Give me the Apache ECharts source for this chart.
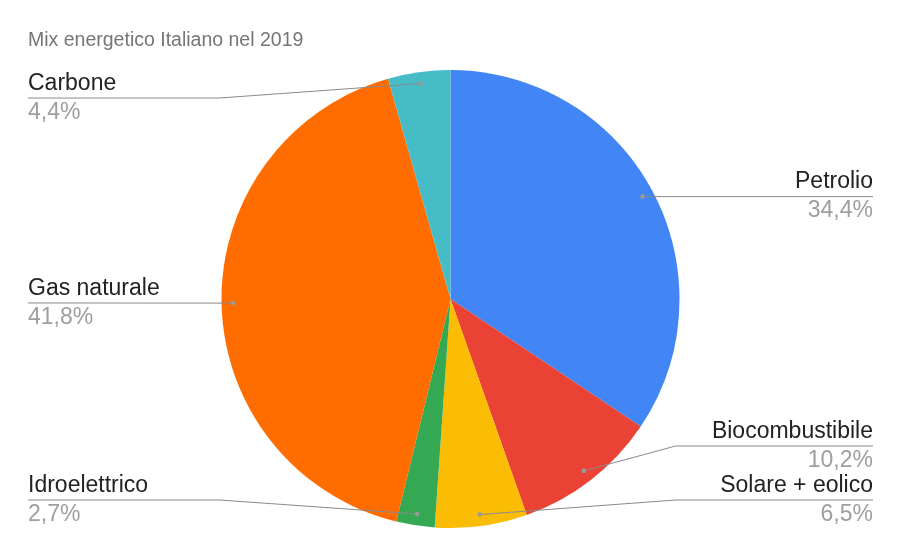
<!DOCTYPE html>
<html>
<head>
<meta charset="utf-8">
<script src="https://cdn.jsdelivr.net/npm/echarts@6/dist/echarts.min.js"></script>
<style>
  html, body { margin: 0; padding: 0; background: #fff; }
  #chart { width: 901px; height: 556px; }
</style>
</head>
<body>
<div id="chart"></div>
<script>
// Mix energetico Italiano nel 2019 (quote in %)
const categories = ['Petrolio', 'Biocombustibile', 'Solare + eolico', 'Idroelettrico', 'Gas naturale', 'Carbone'];
const shares = [34.4, 10.2, 6.5, 2.7, 41.8, 4.4];
const colors = ['#4285F4', '#EA4335', '#FBBC04', '#34A853', '#FF6D01', '#46BDC6'];

const FONT = 'Liberation Sans, Arial, sans-serif';
const RADIUS = 229;
const BOX_TOP = 71;
const BOX_BOTTOM = 29;

const chart = echarts.init(document.getElementById('chart'), null, { renderer: 'canvas' });
const dots = {};

// line: dot inside slice -> elbow at the pie's rim -> under the whole label
function layoutLabel(params) {
    const pts = params.labelLinePoints;
    if (!pts) return {};
    const cx = chart.getWidth() / 2;
    const rect = params.labelRect;
    const left = rect.x + rect.width / 2 < cx;
    const y = pts[2][1];
    const dot = pts[0];
    dots[params.dataIndex] = dot.slice();
    const end = [left ? rect.x : rect.x + rect.width, y];
    let elbow = dot;
    if (Math.abs(dot[1] - y) > 1.5) {
        elbow = [left ? Math.min(cx - RADIUS - 2, dot[0]) : Math.max(cx + RADIUS - 4, dot[0]), y];
    }
    return { labelLinePoints: [dot, elbow, end] };
}

const data = categories.map((name, i) => ({ name: name, value: shares[i] }));
const box = { left: 0, right: 0, top: BOX_TOP, bottom: BOX_BOTTOM, center: ['50%', '50%'], startAngle: 90, clockwise: true };

chart.setOption({
    animation: false,
    backgroundColor: '#ffffff',
    title: {
        text: 'Mix energetico Italiano nel 2019',
        left: 23,
        top: 26,
        textStyle: { fontFamily: FONT, fontSize: 19.5, fontWeight: 'normal', color: '#757575' }
    },
    color: colors,
    series: [
        Object.assign({
            type: 'pie',
            z: 2,
            radius: RADIUS,
            itemStyle: { borderWidth: 0 },
            emphasis: { disabled: true },
            label: { show: false },
            labelLine: { show: false },
            data: data
        }, box),
        // transparent copy that carries the labels, its edge is where the dots sit
        Object.assign({
            type: 'pie',
            z: 3,
            radius: RADIUS * 0.95,
            silent: true,
            avoidLabelOverlap: true,
            itemStyle: { color: 'rgba(0,0,0,0)', borderWidth: 0 },
            emphasis: { disabled: true },
            label: {
                show: true,
                position: 'outside',
                alignTo: 'edge',
                edgeDistance: 28,
                fontFamily: FONT,
                formatter: p => '{n|' + p.name + '}\n{p|' + p.percent.toFixed(1).replace('.', ',') + '%}',
                rich: {
                    n: { fontSize: 23, lineHeight: 29, color: '#222222', fontFamily: FONT },
                    p: { fontSize: 23, lineHeight: 29, color: '#9e9e9e', fontFamily: FONT }
                }
            },
            labelLine: {
                show: true,
                showAbove: true,
                length: 0,
                length2: 10,
                smooth: false,
                lineStyle: { color: '#8a8a8a', width: 1 }
            },
            labelLayout: layoutLabel,
            data: data
        }, box)
    ]
});

// small dots where the label lines start (positions come from the label layout above)
chart.setOption({
    graphic: Object.keys(dots).map(k => ({
        type: 'circle',
        z: 10,
        silent: true,
        shape: { cx: dots[k][0], cy: dots[k][1], r: 2.3 },
        style: { fill: '#9a9a9a' }
    }))
});
</script>
</body>
</html>
